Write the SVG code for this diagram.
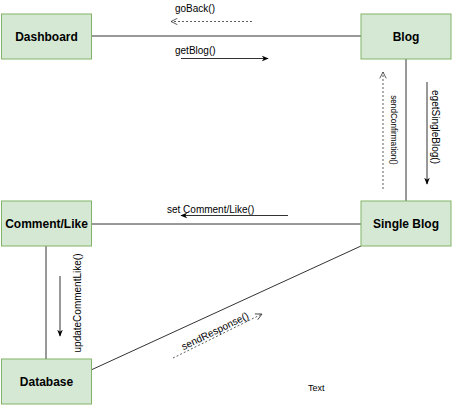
<svg xmlns="http://www.w3.org/2000/svg" width="452" height="405" viewBox="0 0 452 405">
<defs>
<style>
.box{fill:#d5e8d4;stroke:#82b366;stroke-width:1}
.lbl{font-family:"Liberation Sans",Arial,sans-serif;font-size:12px;font-weight:bold;fill:#000;text-anchor:middle;dominant-baseline:central}
.msg{font-family:"Liberation Sans",Arial,sans-serif;font-size:10px;fill:#000}
.line{stroke:#333;stroke-width:1;fill:none}
.dash{stroke:#333;stroke-width:0.8;fill:none;stroke-dasharray:2,2}
</style>
<marker id="filled" viewBox="0 0 10 10" refX="9" refY="5" markerWidth="7" markerHeight="7" markerUnits="userSpaceOnUse" orient="auto">
<path d="M0,1 L10,5 L0,9 L3,5 Z" fill="#000"/>
</marker>
<marker id="open" viewBox="0 0 10 10" refX="9" refY="5" markerWidth="8" markerHeight="8" markerUnits="userSpaceOnUse" orient="auto">
<path d="M1,1 L9,5 L1,9" fill="none" stroke="#333" stroke-width="1"/>
</marker>
</defs>
<g id="connectors">
<line class="line" x1="91" y1="36" x2="361" y2="36"/>
<line class="line" x1="406" y1="59" x2="406" y2="201"/>
<line class="line" x1="91" y1="224" x2="361" y2="224"/>
<line class="line" x1="46" y1="246" x2="46" y2="359"/>
<line class="line" x1="91" y1="370" x2="361" y2="246"/>
<line class="dash" x1="252" y1="21.5" x2="171" y2="21.5" marker-end="url(#open)"/>
<line class="line" x1="181" y1="58.5" x2="268" y2="58.5" marker-end="url(#filled)"/>
<line class="dash" x1="383" y1="189" x2="383" y2="72" marker-end="url(#open)"/>
<line class="line" x1="427" y1="82" x2="427" y2="184" marker-end="url(#filled)"/>
<line class="line" x1="288" y1="215.5" x2="181" y2="215.5" marker-end="url(#filled)"/>
<line class="line" x1="60" y1="276" x2="60" y2="336" marker-end="url(#filled)"/>
<line class="dash" x1="173" y1="358" x2="262" y2="314" marker-end="url(#open)"/>
<text class="msg" x="175" y="12">goBack()</text>
<text class="msg" x="175" y="54">getBlog()</text>
<text class="msg" x="167" y="213">set Comment/Like()</text>
<text class="msg" style="font-size:8.2px" text-anchor="middle" dominant-baseline="central" transform="translate(393,130) rotate(90)">sendConfirmation()</text>
<text class="msg" text-anchor="middle" dominant-baseline="central" transform="translate(435,127) rotate(90)">egetSingleBlog()</text>
<text class="msg" text-anchor="middle" dominant-baseline="central" transform="translate(77,303) rotate(-90)">updateCommentLike()</text>
<text class="msg" text-anchor="middle" dominant-baseline="central" transform="translate(215,331) rotate(-26)">sendResponse()</text>
</g>
<g id="dashboard"><rect class="box" x="1.5" y="14" width="90" height="45"/><text class="lbl" x="46.5" y="36.5">Dashboard</text></g>
<g id="blog"><rect class="box" x="361" y="14" width="90" height="45"/><text class="lbl" x="406" y="36.5">Blog</text></g>
<g id="comment-like"><rect class="box" x="1.5" y="201" width="90" height="45"/><text class="lbl" x="46.5" y="224">Comment/Like</text></g>
<g id="single-blog"><rect class="box" x="361" y="201" width="90" height="45"/><text class="lbl" x="406" y="224">Single Blog</text></g>
<g id="database"><rect class="box" x="1.5" y="359" width="90" height="45"/><text class="lbl" x="46.5" y="381.5">Database</text></g>
<text class="msg" style="font-size:9px" x="308" y="391">Text</text>
</svg>
